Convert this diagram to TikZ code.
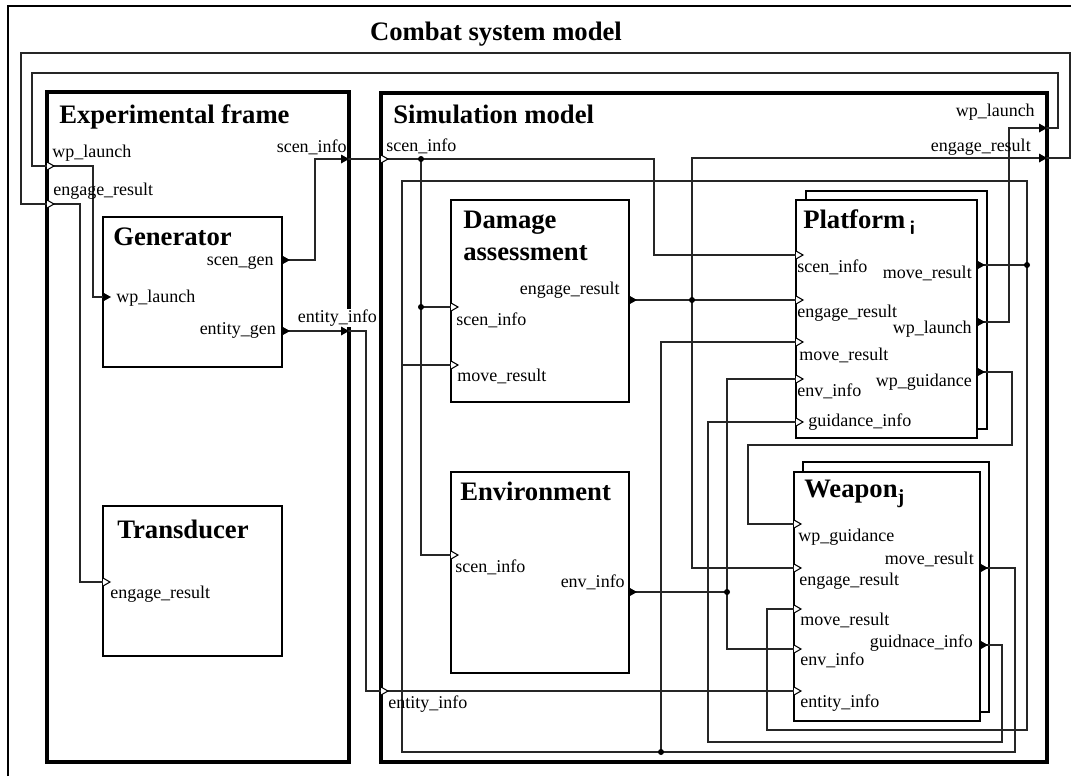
\documentclass[tikz,border=0pt]{standalone}
\usepackage{fontspec}
\setmainfont{Liberation Serif}
\usetikzlibrary{fit}
\newcommand\PortIn[1]{\draw[line width=0.8pt,fill=white] (#1) ++(0,-4) -- ++(7,4) -- ++(-7,4);}
\newcommand\PortOut[1]{\fill (#1) ++(0,-4.5) -- ++(8,4.5) -- ++(-8,4.5) -- cycle;}
\newcommand\PortOutTip[1]{\fill (#1) -- ++(-8,-4.5) -- ++(0,9) -- cycle;}
\begin{document}
\begin{tikzpicture}[x=0.75pt,y=-0.75pt,
  wire/.style={line width=0.8pt, draw=black!85},
  blk/.style={draw, line width=1.9pt, inner sep=0pt, fill=white},
  cpl/.style={draw, line width=2.3pt, inner sep=0pt},
  ttl/.style={font=\fontsize{20}{24}\selectfont\bfseries, inner sep=0pt, anchor=base west},
  lbl/.style={font=\fontsize{13.5}{16}\selectfont, inner sep=0pt, anchor=base west},
  lblr/.style={font=\fontsize{13.5}{16}\selectfont, inner sep=0pt, anchor=base east},
  jdot/.style={circle, fill=black, inner sep=0pt, minimum size=4.5pt},
]
\useasboundingbox (0,0) rectangle (1071,776);
% outer frame (cropped on the right and bottom)
\draw[line width=1.5pt] (8,776) -- (8,6) -- (1071,6);
\node[font=\fontsize{20}{24}\selectfont\bfseries, inner sep=0pt, anchor=base] (title) at (496,40) {Combat system model};

% coupled models
\node[cpl, fit={(47,92) (349,762)}] (ef) {};
\node[cpl, fit={(381,93) (1047,762)}] (sm) {};
\node[ttl] (eft) at (59,123) {Experimental frame};
\node[ttl] (smt) at (393,123) {Simulation model};

% atomic models
\node[blk, fit={(103,217) (282,367)}] (gen) {};
\node[blk, fit={(103,506) (282,656)}] (tr) {};
\node[blk, fit={(451,200) (629,402)}] (da) {};
\node[blk, fit={(451,472) (629,673)}] (env) {};
\node[blk, fit={(806,191) (987,429)}] (pls) {};
\node[blk, fit={(796,200) (977,438)}] (pl) {};
\node[blk, fit={(803,462) (989,712)}] (wps) {};
\node[blk, fit={(794,472) (980,721)}] (wp) {};

\node[ttl] (gent) at (113,245) {Generator};
\node[ttl] (trt) at (117,538) {Transducer};
\node[ttl] (dat1) at (463,228) {Damage};
\node[ttl] (dat2) at (463,260) {assessment};
\node[ttl] (envt) at (460,500) {Environment};
\node[ttl] (plt) at (803,228) {Platform\,\raisebox{-5pt}{\fontsize{15}{15}\selectfont\sffamily\bfseries i}};
\node[ttl] (wpt) at (804,497) {Weapon\raisebox{-5pt}{\fontsize{15}{15}\selectfont j}};

% ports
\coordinate (ef-wl) at (47,166);
\coordinate (ef-er) at (47,204);
\coordinate (ef-si) at (349,159);
\coordinate (ef-ei) at (349,331);
\coordinate (gen-wl) at (103,297);
\coordinate (gen-sg) at (282,260);
\coordinate (gen-eg) at (282,331);
\coordinate (tr-er) at (103,582);
\coordinate (sm-si) at (381,159);
\coordinate (sm-ei) at (381,691);
\coordinate (sm-wl) at (1047,128);
\coordinate (sm-er) at (1047,158);
\coordinate (da-si) at (451,307);
\coordinate (da-mr) at (451,365);
\coordinate (da-er) at (629,300);
\coordinate (en-si) at (451,555);
\coordinate (en-ei) at (629,592);
\coordinate (pl-si) at (796,255);
\coordinate (pl-er) at (796,300);
\coordinate (pl-mr) at (796,342);
\coordinate (pl-ei) at (796,379);
\coordinate (pl-gi) at (796,422);
\coordinate (pl-mro) at (977,265);
\coordinate (pl-wl) at (977,322);
\coordinate (pl-wg) at (977,372);
\coordinate (wp-wg) at (794,524);
\coordinate (wp-er) at (794,568);
\coordinate (wp-mr) at (794,609);
\coordinate (wp-ei) at (794,649);
\coordinate (wp-en) at (794,691);
\coordinate (wp-mro) at (980,568);
\coordinate (wp-gi) at (980,645);
% bends
\coordinate (c1) at (402,181);
\coordinate (c2) at (1015,752);
\coordinate (c3) at (767,730);
\coordinate (c4) at (32,73);
\coordinate (c5) at (21,53);
\coordinate (c6) at (748,445);
\coordinate (c7) at (708,742);
% junctions
\coordinate (j1) at (421,159);
\coordinate (j2) at (421,307);
\coordinate (j3) at (692,300);
\coordinate (j4) at (727,592);
\coordinate (j5) at (1027,265);
\coordinate (j6) at (661,752);

% wires
\draw[wire] (gen-sg) -- ++(33,0) |- (ef-si) -- (sm-si);
\draw[wire] (gen-eg) -- (ef-ei) -- ++(17,0) |- (sm-ei) -- (wp-en);
\draw[wire] (ef-wl) -- ++(46,0) |- (gen-wl);
\draw[wire] (ef-er) -- ++(33,0) |- (tr-er);
\draw[wire] (sm-si) -- ++(273,0) |- (pl-si);
\draw[wire] (j1) |- (en-si);
\draw[wire] (j2) -- (da-si);
\draw[wire] (da-er) -- (pl-er);
\draw[wire] (sm-er) -| (j3) |- (wp-er);
\draw[wire] (en-ei) -- (j4);
\draw[wire] (pl-ei) -| (j4) |- (wp-ei);
\draw[wire] (pl-mro) -- (j5) |- (c1) |- (da-mr);
\draw[wire] (c1) |- (j6) -- (c2) |- (wp-mro);
\draw[wire] (j5) |- (c3) |- (wp-mr);
\draw[wire] (j6) |- (pl-mr);
\draw[wire] (pl-wl) -- ++(32,0) |- (sm-wl) -- ++(11,0) |- (c4) |- (ef-wl);
\draw[wire] (sm-er) -- ++(23,0) |- (c5) |- (ef-er);
\draw[wire] (pl-wg) -- ++(35,0) |- (c6) |- (wp-wg);
\draw[wire] (wp-gi) -- ++(22,0) |- (c7) |- (pl-gi);

% junction dots
\foreach \j in {j1,j2,j3,j4,j5,j6} {\node[jdot] at (\j) {};}

% labels
\node[lbl] (l-efwl) at (52,157) {wp\_launch};
\node[lbl] (l-efer) at (53,195) {engage\_result};
\node[lblr] (l-efsi) at (347,152) {scen\_info};
\node[lbl, fill=white, inner sep=0.5pt] (l-efei) at (297,322) {entity\_info};
\node[lblr] (l-gensg) at (274,265) {scen\_gen};
\node[lbl] (l-genwl) at (116,302) {wp\_launch};
\node[lblr] (l-geneg) at (276,334) {entity\_gen};
\node[lbl] (l-trer) at (110,598) {engage\_result};
\node[lbl] (l-smsi) at (386,151) {scen\_info};
\node[lbl] (l-smei) at (388,708) {entity\_info};
\node[lblr] (l-smwl) at (1035,116) {wp\_launch};
\node[lblr] (l-smer) at (1031,151) {engage\_result};
\node[lblr] (l-daer) at (620,294) {engage\_result};
\node[lbl] (l-dasi) at (456,325) {scen\_info};
\node[lbl] (l-damr) at (457,381) {move\_result};
\node[lbl] (l-ensi) at (455,572) {scen\_info};
\node[lblr] (l-enei) at (625,587) {env\_info};
\node[lbl] (l-plsi) at (797,272) {scen\_info};
\node[lbl] (l-pler) at (797,317) {engage\_result};
\node[lbl] (l-plmr) at (799,360) {move\_result};
\node[lbl] (l-plei) at (797,396) {env\_info};
\node[lbl] (l-plgi) at (808,426) {guidance\_info};
\node[lblr] (l-plmro) at (972,278) {move\_result};
\node[lblr] (l-plwl) at (972,333) {wp\_launch};
\node[lblr] (l-plwg) at (972,386) {wp\_guidance};
\node[lbl] (l-wpwg) at (798,541) {wp\_guidance};
\node[lbl] (l-wper) at (799,585) {engage\_result};
\node[lbl] (l-wpmr) at (800,625) {move\_result};
\node[lbl] (l-wpei) at (800,665) {env\_info};
\node[lbl] (l-wpen) at (800,707) {entity\_info};
\node[lblr] (l-wpmro) at (974,564) {move\_result};
\node[lblr] (l-wpgi) at (973,647) {guidnace\_info};

% port arrows
\foreach \p in {ef-wl,ef-er,tr-er,sm-si,sm-ei,da-si,da-mr,en-si,pl-si,pl-er,pl-mr,pl-ei,pl-gi,wp-wg,wp-er,wp-mr,wp-ei,wp-en} {\PortIn{\p}}
\foreach \p in {gen-sg,gen-eg,gen-wl,da-er,en-ei,pl-mro,pl-wl,pl-wg,wp-mro,wp-gi} {\PortOut{\p}}
\foreach \p in {ef-si,ef-ei,sm-wl,sm-er} {\PortOutTip{\p}}
\end{tikzpicture}
\end{document}
